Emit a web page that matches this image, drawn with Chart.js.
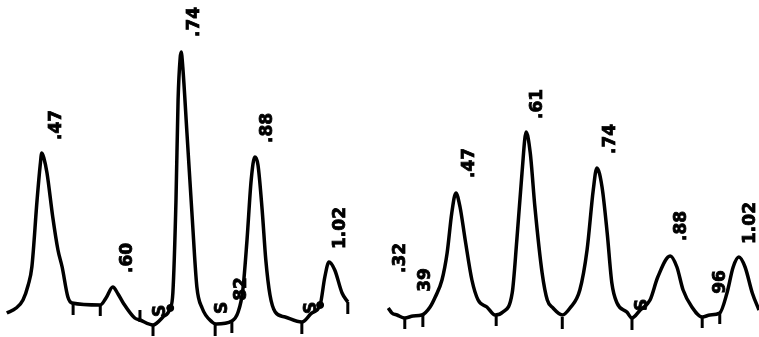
<!DOCTYPE html>
<html>
<head>
<meta charset="utf-8">
<script src="https://cdn.jsdelivr.net/npm/chart.js@4/dist/chart.umd.min.js"></script>
<style>
  body { margin: 0; background: #fff; }
  .panel { position: absolute; top: 0; }
</style>
</head>
<body>
<canvas id="left" class="panel" style="left:0" width="376" height="337"></canvas>
<canvas id="right" class="panel" style="left:380px" width="379" height="337"></canvas>
<script>
// retention time (min) and detector signal
const leftTimes = [0.403, 0.421, 0.434, 0.444, 0.451, 0.461, 0.467, 0.470, 0.474, 0.480, 0.491, 0.501, 0.509, 0.520, 0.528,
  0.582, 0.593, 0.606, 0.616, 0.626, 0.648, 0.658, 0.683, 0.702, 0.716, 0.721, 0.727, 0.731, 0.735, 0.737, 0.740, 0.748,
  0.758, 0.767, 0.777, 0.796, 0.804, 0.834, 0.846, 0.855, 0.863, 0.871, 0.878, 0.884, 0.892, 0.899, 0.907, 0.917, 0.936,
  0.968, 0.987, 1.003, 1.012, 1.020, 1.031, 1.045, 1.056];
const leftSignal = [24, 29, 37, 52, 70, 137, 172, 184, 179, 164, 120, 87, 70, 40, 34,
  32, 39, 50, 43, 34, 19, 17, 12, 20, 29, 44, 137, 237, 279, 285, 270, 204,
  120, 50, 29, 15, 13, 16, 25, 47, 97, 157, 180, 172, 127, 77, 42, 25, 20,
  15, 24, 32, 60, 75, 67, 44, 35];
const leftTickTimes = [0.530, 0.582, 0.658, 0.683, 0.802, 0.834, 0.968, 1.056];
const leftTickSignal = [28, 27, 21, 7, 7, 10, 9, 29];
const leftDotTimes = [0.716, 1.003];
const leftDotSignal = [29, 32];
const leftLabels = [".47", ".60", ".74", ".88", "1.02", "82", "S", "S", "S"];
const leftLabelTimes = [0.499, 0.635, 0.763, 0.903, 1.043, 0.852, 0.817, 0.698, 0.986];
const leftLabelSignal = [212, 79, 315, 209, 109, 48, 29, 26, 29];

const rightTimes = [0.339, 0.346, 0.356, 0.371, 0.387, 0.404, 0.420, 0.430, 0.443, 0.453, 0.462, 0.470, 0.478, 0.488,
  0.501, 0.513, 0.530, 0.546, 0.561, 0.579, 0.588, 0.598, 0.606, 0.614, 0.623, 0.637, 0.647, 0.658, 0.676, 0.691,
  0.710, 0.724, 0.736, 0.743, 0.753, 0.763, 0.772, 0.782, 0.801, 0.811, 0.827, 0.846, 0.861, 0.885, 0.898, 0.910,
  0.927, 0.947, 0.962, 0.981, 0.995, 1.007, 1.018, 1.030, 1.044, 1.057];
const rightSignal = [29, 24, 22, 19, 21, 22, 30, 40, 57, 84, 124, 144, 130, 97,
  57, 37, 30, 22, 25, 44, 97, 164, 205, 184, 130, 64, 37, 29, 22, 29,
  47, 87, 147, 169, 150, 104, 54, 34, 25, 19, 27, 37, 60, 81, 70, 47,
  30, 20, 22, 24, 44, 70, 80, 70, 44, 27];
const rightTickTimes = [0.371, 0.406, 0.548, 0.676, 0.811, 0.947, 0.981];
const rightTickSignal = [14, 16, 17, 14, 13, 15, 19];
const rightLabels = [".32", "39", ".47", ".61", ".74", ".88", "96", "1.02", "S"];
const rightLabelTimes = [0.362, 0.412, 0.497, 0.629, 0.770, 0.908, 0.983, 1.040, 0.832];
const rightLabelSignal = [79, 57, 174, 233, 198, 111, 55, 114, 32];

const zip = (xs, ys) => xs.map((x, i) => ({ x: x, y: ys[i] }));

// rotated retention-time labels, written bottom to top
const peakText = {
  id: 'peakText',
  afterDatasetsDraw(chart, args, opts) {
    const ctx = chart.ctx;
    const xs = chart.scales.x, ys = chart.scales.y;
    ctx.save();
    ctx.fillStyle = '#000';
    ctx.strokeStyle = '#000';
    ctx.lineWidth = 0.8;
    ctx.font = 'bold 17px "DejaVu Sans"';
    ctx.textAlign = 'center';
    ctx.textBaseline = 'middle';
    opts.texts.forEach((t, i) => {
      ctx.save();
      ctx.translate(xs.getPixelForValue(opts.times[i]), ys.getPixelForValue(opts.signal[i]));
      ctx.rotate(-Math.PI / 2);
      ctx.fillText(t, 0, 0);
      ctx.strokeText(t, 0, 0);
      ctx.restore();
    });
    ctx.restore();
  }
};

function drawPanel(id, times, signal, tickT, tickS, dotT, dotS, texts, textT, textS, xMin, xMax) {
  const ctx = document.getElementById(id).getContext('2d');
  return new Chart(ctx, {
    type: 'line',
    data: {
      datasets: [
        {
          data: zip(times, signal),
          borderColor: '#000',
          borderWidth: 3.5,
          pointRadius: 0,
          cubicInterpolationMode: 'monotone',
          fill: false
        },
        {
          data: zip(tickT, tickS),
          showLine: false,
          pointStyle: 'line',
          rotation: 90,
          pointRadius: 6,
          borderColor: '#000',
          borderWidth: 3
        },
        {
          data: zip(dotT, dotS),
          showLine: false,
          pointStyle: 'circle',
          pointRadius: 3.5,
          backgroundColor: '#000',
          borderColor: '#000'
        }
      ]
    },
    options: {
      responsive: false,
      animation: false,
      layout: { padding: 0, autoPadding: false },
      scales: {
        x: { type: 'linear', min: xMin, max: xMax, display: false },
        y: { min: 0, max: 337, display: false }
      },
      plugins: {
        legend: { display: false },
        tooltip: { enabled: false },
        peakText: { texts: texts, times: textT, signal: textS }
      }
    },
    plugins: [peakText]
  });
}

drawPanel('left', leftTimes, leftSignal, leftTickTimes, leftTickSignal, leftDotTimes, leftDotSignal,
  leftLabels, leftLabelTimes, leftLabelSignal, 0.39, 1.11);
drawPanel('right', rightTimes, rightSignal, rightTickTimes, rightTickSignal, [], [],
  rightLabels, rightLabelTimes, rightLabelSignal, 0.323, 1.057);
</script>
</body>
</html>
